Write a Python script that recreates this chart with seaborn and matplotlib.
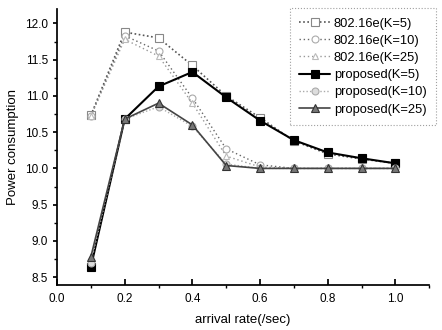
import matplotlib
matplotlib.use("Agg")
import matplotlib.pyplot as plt
import seaborn as sns
import numpy as np
from matplotlib.ticker import MultipleLocator

sns.set_theme(style="ticks")
plt.rcParams['font.family'] = ['Liberation Sans', 'DejaVu Sans']
plt.rcParams.update({"text.color": "black", "axes.labelcolor": "black",
                     "xtick.color": "black", "ytick.color": "black",
                     "axes.edgecolor": "black"})

rate = [0.1, 0.2, 0.3, 0.4, 0.5, 0.6, 0.7, 0.8, 0.9, 1.0]
std_k5 = [10.73, 11.88, 11.80, 11.42, 11.00, 10.70, 10.38, 10.20, 10.13, 10.07]
std_k10 = [10.72, 11.83, 11.62, 10.97, 10.27, 10.05, 10.00, 10.00, 10.00, 10.00]
std_k25 = [10.72, 11.78, 11.55, 10.90, 10.17, 10.02, 10.00, 10.00, 10.00, 10.00]
prop_k5 = [8.64, 10.68, 11.13, 11.33, 10.98, 10.66, 10.39, 10.22, 10.14, 10.07]
prop_k10 = [8.70, 10.68, 10.85, 10.58, 10.06, 10.00, 10.00, 10.00, 10.00, 10.00]
prop_k25 = [8.78, 10.68, 10.90, 10.60, 10.04, 10.00, 10.00, 10.00, 10.00, 10.00]
labels = ["802.16e(K=5)", "802.16e(K=10)", "802.16e(K=25)",
          "proposed(K=5)", "proposed(K=10)", "proposed(K=25)"]

fig = plt.figure(figsize=(4.42, 3.3), dpi=100)
ax = fig.add_axes([0.129, 0.136, 0.842, 0.837])

styles = [
    dict(color="#555555", linestyle=(0, (1, 1.5)), marker="s", mfc="white", mec="#888888", ms=6, lw=1.2),
    dict(color="#666666", linestyle=(0, (1, 2)), marker="o", mfc="white", mec="#aaaaaa", ms=5, lw=1.0),
    dict(color="#999999", linestyle=(0, (1, 2)), marker="^", mfc="white", mec="#bbbbbb", ms=5, lw=1.0),
    dict(color="black", linestyle="-", marker="s", mfc="black", mec="black", ms=6, lw=1.5),
    dict(color="#aaaaaa", linestyle=(0, (1, 1.5)), marker="o", mfc="#dddddd", mec="#aaaaaa", ms=5, lw=1.0),
    dict(color="#444444", linestyle="-", marker="^", mfc="#777777", mec="#333333", ms=6, lw=1.2),
]
series = [std_k5, std_k10, std_k25, prop_k5, prop_k10, prop_k25]
for vals, lab, st in zip(series, labels, styles):
    sns.lineplot(x=rate, y=vals, ax=ax, label=lab, color=st["color"],
                 linestyle=st["linestyle"], linewidth=st["lw"], marker=st["marker"],
                 markerfacecolor=st["mfc"], markeredgecolor=st["mec"], markersize=st["ms"],
                 markeredgewidth=0.8)

ax.set_xlim(0.0, 1.1)
ax.set_ylim(8.39, 12.2)
ax.set_xticks([0.0, 0.2, 0.4, 0.6, 0.8, 1.0])
ax.set_xticklabels(["0.0", "0.2", "0.4", "0.6", "0.8", "1.0"])
ax.set_yticks([8.5, 9.0, 9.5, 10.0, 10.5, 11.0, 11.5, 12.0])
ax.xaxis.set_minor_locator(MultipleLocator(0.1))
ax.yaxis.set_minor_locator(MultipleLocator(0.25))
ax.tick_params(axis="x", direction="in", labelsize=8.5, length=4, pad=6)
ax.tick_params(axis="y", direction="out", labelsize=8.5, length=3)
ax.tick_params(which="minor", length=2)
for s in ["top", "right"]:
    ax.spines[s].set_visible(False)
ax.set_xlabel("arrival rate(/sec)", fontsize=9.5, labelpad=6)
ax.set_ylabel("Power consumption", fontsize=9.5)

leg = ax.legend(loc="upper right", bbox_to_anchor=(1.035, 1.025), fontsize=9.3,
                frameon=True, fancybox=False, handlelength=2.4, borderpad=0.7,
                labelspacing=0.4, handletextpad=0.3)
leg.get_frame().set_edgecolor("#888888")
leg.get_frame().set_linestyle(":")
leg.get_frame().set_linewidth(0.8)

fig.savefig("out.png", dpi=100)
